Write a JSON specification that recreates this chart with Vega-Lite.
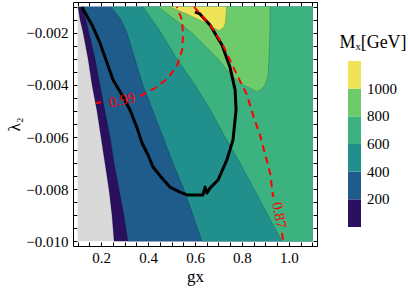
{
  "$schema": "https://vega.github.io/schema/vega-lite/v6.json",
  "width": 244,
  "height": 244,
  "autosize": {"type": "none"},
  "padding": {"left": 73, "top": 2, "right": 91, "bottom": 45},
  "background": "white",
  "config": {
    "view": {"stroke": null},
    "font": "Liberation Serif",
    "axis": {
      "grid": false,
      "domainColor": "black",
      "domainWidth": 1,
      "tickColor": "black",
      "tickWidth": 1,
      "labelColor": "black",
      "labelFont": "Liberation Serif",
      "labelFontSize": 15,
      "titleFont": "Liberation Serif",
      "titleFontSize": 17,
      "titleFontWeight": "normal",
      "titleColor": "black",
      "labelFlush": false,
      "labelOverlap": false,
      "labelBound": false
    },
    "legend": {
      "labelFont": "Liberation Serif",
      "labelFontSize": 15,
      "labelColor": "black",
      "titleFont": "Liberation Serif",
      "titleFontSize": 18,
      "titleFontWeight": "normal",
      "titleColor": "black"
    }
  },
  "datasets": {
    "bands": [
      {"v": 0, "lam": -0.001, "xl": 0.1, "xr": 1.1},
      {"v": 0, "lam": -0.01, "xl": 0.1, "xr": 1.1},

      {"v": 100, "lam": -0.001, "xl": 0.101, "xr": 1.1},
      {"v": 100, "lam": -0.0015, "xl": 0.110, "xr": 1.1},
      {"v": 100, "lam": -0.002, "xl": 0.123, "xr": 1.1},
      {"v": 100, "lam": -0.003, "xl": 0.144, "xr": 1.1},
      {"v": 100, "lam": -0.004, "xl": 0.161, "xr": 1.1},
      {"v": 100, "lam": -0.005, "xl": 0.182, "xr": 1.1},
      {"v": 100, "lam": -0.006, "xl": 0.199, "xr": 1.1},
      {"v": 100, "lam": -0.007, "xl": 0.216, "xr": 1.1},
      {"v": 100, "lam": -0.008, "xl": 0.233, "xr": 1.1},
      {"v": 100, "lam": -0.009, "xl": 0.246, "xr": 1.1},
      {"v": 100, "lam": -0.01, "xl": 0.255, "xr": 1.1},

      {"v": 300, "lam": -0.001, "xl": 0.118, "xr": 1.1},
      {"v": 300, "lam": -0.0015, "xl": 0.135, "xr": 1.1},
      {"v": 300, "lam": -0.002, "xl": 0.148, "xr": 1.1},
      {"v": 300, "lam": -0.003, "xl": 0.174, "xr": 1.1},
      {"v": 300, "lam": -0.004, "xl": 0.195, "xr": 1.1},
      {"v": 300, "lam": -0.005, "xl": 0.216, "xr": 1.1},
      {"v": 300, "lam": -0.006, "xl": 0.238, "xr": 1.1},
      {"v": 300, "lam": -0.007, "xl": 0.255, "xr": 1.1},
      {"v": 300, "lam": -0.008, "xl": 0.276, "xr": 1.1},
      {"v": 300, "lam": -0.009, "xl": 0.297, "xr": 1.1},
      {"v": 300, "lam": -0.01, "xl": 0.314, "xr": 1.1},

      {"v": 500, "lam": -0.001, "xl": 0.242, "xr": 1.1},
      {"v": 500, "lam": -0.0015, "xl": 0.285, "xr": 1.1},
      {"v": 500, "lam": -0.002, "xl": 0.310, "xr": 1.1},
      {"v": 500, "lam": -0.003, "xl": 0.344, "xr": 1.1},
      {"v": 500, "lam": -0.004, "xl": 0.378, "xr": 1.1},
      {"v": 500, "lam": -0.005, "xl": 0.421, "xr": 1.1},
      {"v": 500, "lam": -0.006, "xl": 0.464, "xr": 1.1},
      {"v": 500, "lam": -0.007, "xl": 0.506, "xr": 1.1},
      {"v": 500, "lam": -0.008, "xl": 0.553, "xr": 1.1},
      {"v": 500, "lam": -0.009, "xl": 0.592, "xr": 1.1},
      {"v": 500, "lam": -0.01, "xl": 0.630, "xr": 1.1},

      {"v": 700, "lam": -0.001, "xl": 0.378, "xr": 1.1},
      {"v": 700, "lam": -0.0015, "xl": 0.417, "xr": 1.1},
      {"v": 700, "lam": -0.002, "xl": 0.455, "xr": 1.1},
      {"v": 700, "lam": -0.003, "xl": 0.523, "xr": 1.1},
      {"v": 700, "lam": -0.004, "xl": 0.600, "xr": 1.1},
      {"v": 700, "lam": -0.005, "xl": 0.668, "xr": 1.1},
      {"v": 700, "lam": -0.006, "xl": 0.728, "xr": 1.1},
      {"v": 700, "lam": -0.007, "xl": 0.792, "xr": 1.1},
      {"v": 700, "lam": -0.008, "xl": 0.852, "xr": 1.1},
      {"v": 700, "lam": -0.009, "xl": 0.911, "xr": 1.1},
      {"v": 700, "lam": -0.01, "xl": 0.971, "xr": 1.1},

      {"v": 900, "lam": -0.001, "xl": 0.442, "xr": 0.920},
      {"v": 900, "lam": -0.0015, "xl": 0.515, "xr": 0.920},
      {"v": 900, "lam": -0.002, "xl": 0.587, "xr": 0.919},
      {"v": 900, "lam": -0.003, "xl": 0.698, "xr": 0.915},
      {"v": 900, "lam": -0.0037, "xl": 0.762, "xr": 0.911},
      {"v": 900, "lam": -0.004, "xl": 0.805, "xr": 0.898},
      {"v": 900, "lam": -0.0041, "xl": 0.830, "xr": 0.890},
      {"v": 900, "lam": -0.0042, "xl": 0.850, "xr": 0.877},
      {"v": 900, "lam": -0.00425, "xl": 0.863, "xr": 0.864},

      {"v": 1100, "lam": -0.001, "xl": 0.493, "xr": 0.735},
      {"v": 1100, "lam": -0.0013, "xl": 0.570, "xr": 0.732},
      {"v": 1100, "lam": -0.0016, "xl": 0.640, "xr": 0.730},
      {"v": 1100, "lam": -0.0018, "xl": 0.675, "xr": 0.722},
      {"v": 1100, "lam": -0.0019, "xl": 0.700, "xr": 0.705}
    ],
    "black": [
      {"i": 1, "gx": 0.118, "lam": -0.00101},
      {"i": 2, "gx": 0.161, "lam": -0.00170},
      {"i": 3, "gx": 0.195, "lam": -0.00239},
      {"i": 4, "gx": 0.221, "lam": -0.00305},
      {"i": 5, "gx": 0.251, "lam": -0.00381},
      {"i": 6, "gx": 0.289, "lam": -0.00439},
      {"i": 7, "gx": 0.323, "lam": -0.00496},
      {"i": 8, "gx": 0.353, "lam": -0.00565},
      {"i": 9, "gx": 0.374, "lam": -0.00623},
      {"i": 10, "gx": 0.400, "lam": -0.00669},
      {"i": 11, "gx": 0.421, "lam": -0.00715},
      {"i": 12, "gx": 0.459, "lam": -0.00757},
      {"i": 13, "gx": 0.493, "lam": -0.00792},
      {"i": 14, "gx": 0.536, "lam": -0.00811},
      {"i": 15, "gx": 0.566, "lam": -0.00822},
      {"i": 16, "gx": 0.634, "lam": -0.00822},
      {"i": 17, "gx": 0.643, "lam": -0.00792},
      {"i": 18, "gx": 0.651, "lam": -0.00815},
      {"i": 19, "gx": 0.664, "lam": -0.00796},
      {"i": 20, "gx": 0.698, "lam": -0.00765},
      {"i": 21, "gx": 0.736, "lam": -0.00688},
      {"i": 22, "gx": 0.762, "lam": -0.00611},
      {"i": 23, "gx": 0.775, "lam": -0.00496},
      {"i": 24, "gx": 0.771, "lam": -0.00420},
      {"i": 25, "gx": 0.749, "lam": -0.00331},
      {"i": 26, "gx": 0.715, "lam": -0.00247},
      {"i": 27, "gx": 0.664, "lam": -0.00170},
      {"i": 28, "gx": 0.621, "lam": -0.00128},
      {"i": 29, "gx": 0.600, "lam": -0.00120}
    ],
    "red": [
      {"seg": "a1", "i": 1, "gx": 0.177, "lam": -0.00470},
      {"seg": "a1", "i": 2, "gx": 0.199, "lam": -0.00466},
      {"seg": "a2", "i": 1, "gx": 0.366, "lam": -0.00443},
      {"seg": "a2", "i": 2, "gx": 0.430, "lam": -0.00412},
      {"seg": "a2", "i": 3, "gx": 0.481, "lam": -0.00377},
      {"seg": "a2", "i": 4, "gx": 0.523, "lam": -0.00328},
      {"seg": "a2", "i": 5, "gx": 0.545, "lam": -0.00266},
      {"seg": "a2", "i": 6, "gx": 0.549, "lam": -0.00209},
      {"seg": "a2", "i": 7, "gx": 0.545, "lam": -0.00151},
      {"seg": "a2", "i": 8, "gx": 0.523, "lam": -0.00101},
      {"seg": "b1", "i": 1, "gx": 0.596, "lam": -0.00101},
      {"seg": "b1", "i": 2, "gx": 0.664, "lam": -0.00170},
      {"seg": "b1", "i": 3, "gx": 0.719, "lam": -0.00247},
      {"seg": "b1", "i": 4, "gx": 0.779, "lam": -0.00362},
      {"seg": "b1", "i": 5, "gx": 0.822, "lam": -0.00439},
      {"seg": "b1", "i": 6, "gx": 0.847, "lam": -0.00515},
      {"seg": "b1", "i": 7, "gx": 0.877, "lam": -0.00592},
      {"seg": "b1", "i": 8, "gx": 0.894, "lam": -0.00650},
      {"seg": "b1", "i": 9, "gx": 0.920, "lam": -0.00738},
      {"seg": "b1", "i": 10, "gx": 0.933, "lam": -0.00830},
      {"seg": "b2", "i": 1, "gx": 0.971, "lam": -0.00968},
      {"seg": "b2", "i": 2, "gx": 0.975, "lam": -0.00999}
    ]
  },
  "layer": [
    {
      "data": {"name": "bands"},
      "transform": [{"filter": "datum.v == 0"}],
      "mark": {"type": "area", "orient": "horizontal", "color": "#d9d9d9"},
      "encoding": {
        "y": {"field": "lam", "type": "quantitative", "stack": null,
          "scale": {"domain": [-0.01018, -0.00082], "nice": false, "zero": false},
          "axis": {"orient": "left", "values": [-0.01, -0.0095, -0.009, -0.0085, -0.008, -0.0075, -0.007, -0.0065, -0.006, -0.0055, -0.005, -0.0045, -0.004, -0.0035, -0.003, -0.0025, -0.002, -0.0015, -0.001],
            "tickSize": -4, "labelPadding": 9,
            "labelExpr": "abs(datum.value*500 - round(datum.value*500)) < 0.01 ? format(datum.value, '.3f') : ''",
            "title": "λ₂", "titlePadding": 2}},
        "x": {"field": "xl", "type": "quantitative",
          "scale": {"domain": [0.08, 1.12], "nice": false, "zero": false},
          "axis": {"orient": "bottom", "values": [0.1, 0.15, 0.2, 0.25, 0.3, 0.35, 0.4, 0.45, 0.5, 0.55, 0.6, 0.65, 0.7, 0.75, 0.8, 0.85, 0.9, 0.95, 1.0, 1.05, 1.1],
            "tickSize": -4, "labelPadding": 8,
            "labelExpr": "abs(datum.value*5 - round(datum.value*5)) < 0.01 ? format(datum.value, '.1f') : ''",
            "title": "gx", "titlePadding": 3}},
        "x2": {"field": "xr"}
      }
    },
    {
      "data": {"name": "bands"},
      "transform": [{"filter": "datum.v >= 100"}],
      "mark": {"type": "area", "orient": "horizontal"},
      "encoding": {
        "y": {"field": "lam", "type": "quantitative", "stack": null,
          "axis": {"orient": "right", "values": [-0.01, -0.0095, -0.009, -0.0085, -0.008, -0.0075, -0.007, -0.0065, -0.006, -0.0055, -0.005, -0.0045, -0.004, -0.0035, -0.003, -0.0025, -0.002, -0.0015, -0.001],
            "tickSize": -4, "labels": false, "title": null}},
        "x": {"field": "xl", "type": "quantitative",
          "axis": {"orient": "top", "values": [0.1, 0.15, 0.2, 0.25, 0.3, 0.35, 0.4, 0.45, 0.5, 0.55, 0.6, 0.65, 0.7, 0.75, 0.8, 0.85, 0.9, 0.95, 1.0, 1.05, 1.1],
            "tickSize": -4, "labels": false, "title": null}},
        "x2": {"field": "xr"},
        "detail": {"field": "v"},
        "color": {"field": "v", "type": "quantitative",
          "scale": {"type": "threshold", "domain": [200, 400, 600, 800, 1000],
            "range": ["#2b1060", "#1f5b8b", "#21908c", "#3bb27f", "#6dcb6c", "#efe35a"]},
          "legend": {"type": "gradient", "orient": "none", "legendX": 266, "legendY": 32, "direction": "vertical",
            "gradientLength": 166, "gradientThickness": 13, "gradientStrokeWidth": 0, "format": "d",
            "title": "Mₓ[GeV]", "titleAnchor": "middle", "titlePadding": 9, "labelOffset": 6}}
      }
    },
    {
      "data": {"name": "bands"},
      "transform": [{"filter": "datum.v > 0"}],
      "mark": {"type": "line", "color": "#000000", "opacity": 0.25, "strokeWidth": 0.7},
      "encoding": {
        "y": {"field": "lam", "type": "quantitative", "axis": null},
        "x": {"field": "xl", "type": "quantitative", "axis": null},
        "detail": {"field": "v"},
        "order": {"field": "lam", "type": "quantitative"}
      }
    },
    {
      "data": {"name": "bands"},
      "transform": [{"filter": "datum.v >= 900"}],
      "mark": {"type": "line", "color": "#000000", "opacity": 0.25, "strokeWidth": 0.7},
      "encoding": {
        "y": {"field": "lam", "type": "quantitative", "axis": null},
        "x": {"field": "xr", "type": "quantitative", "axis": null},
        "detail": {"field": "v"},
        "order": {"field": "lam", "type": "quantitative"}
      }
    },
    {
      "data": {"name": "black"},
      "mark": {"type": "line", "color": "#000000", "strokeWidth": 3, "strokeJoin": "round"},
      "encoding": {
        "y": {"field": "lam", "type": "quantitative", "axis": null},
        "x": {"field": "gx", "type": "quantitative", "axis": null},
        "order": {"field": "i", "type": "quantitative"}
      }
    },
    {
      "data": {"name": "red"},
      "mark": {"type": "line", "color": "#ff0000", "strokeWidth": 2, "strokeDash": [7, 5]},
      "encoding": {
        "y": {"field": "lam", "type": "quantitative", "axis": null},
        "x": {"field": "gx", "type": "quantitative", "axis": null},
        "detail": {"field": "seg"},
        "order": {"field": "i", "type": "quantitative"}
      }
    },
    {
      "data": {"values": [{"t": "0.99", "gx": 0.289, "lam": -0.00457}]},
      "mark": {"type": "text", "color": "#ff0000", "fontSize": 15, "font": "Liberation Serif", "angle": -12, "align": "center", "baseline": "middle"},
      "encoding": {
        "y": {"field": "lam", "type": "quantitative", "axis": null},
        "x": {"field": "gx", "type": "quantitative", "axis": null},
        "text": {"field": "t"}
      }
    },
    {
      "data": {"values": [{"t": "0.87", "gx": 0.960, "lam": -0.00899}]},
      "mark": {"type": "text", "color": "#ff0000", "fontSize": 15, "font": "Liberation Serif", "angle": 80, "align": "center", "baseline": "middle"},
      "encoding": {
        "y": {"field": "lam", "type": "quantitative", "axis": null},
        "x": {"field": "gx", "type": "quantitative", "axis": null},
        "text": {"field": "t"}
      }
    }
  ],
  "resolve": {"axis": {"x": "independent", "y": "independent"}}
}
